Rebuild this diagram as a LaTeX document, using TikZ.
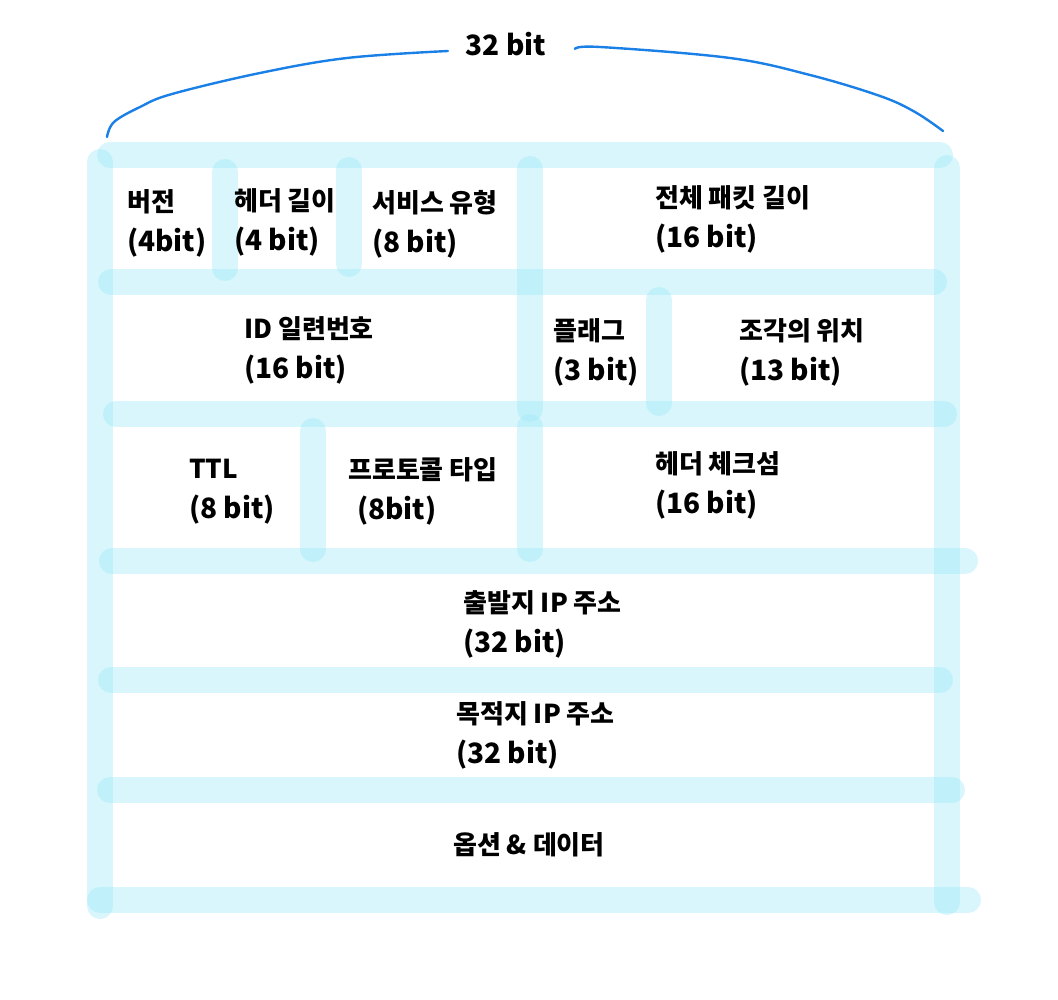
\documentclass[tikz,border=0pt]{standalone}
\usepackage{fontspec}
\setmainfont{Noto Sans CJK KR}
\definecolor{gridcol}{RGB}{157,232,247}
\definecolor{bracecol}{RGB}{26,128,230}
\newcommand{\bitsz}[1]{{\fontsize{28}{40}\selectfont #1}}
\tikzset{
  gridline/.style={draw=gridcol, opacity=0.4, line width=26pt, line cap=round},
  bracel/.style={draw=bracecol, line width=2.4pt, line cap=round},
  lbl/.style={anchor=west, inner sep=0pt, align=left, font=\fontsize{26}{40}\selectfont\bfseries},
}
\begin{document}
\begin{tikzpicture}[x=1pt, y=-1pt]
\useasboundingbox (0,0) rectangle (1058,1000);
% horizontal grid strokes
\draw[gridline] (110,155) -- (940,155);
\draw[gridline] (111,282) -- (934,282);
\draw[gridline] (116,414) -- (944,414);
\draw[gridline] (112,561) -- (965,561);
\draw[gridline] (111,680) -- (940,680);
\draw[gridline] (110,790) -- (952,790);
\draw[gridline] (100,900) -- (968,900);
% vertical grid strokes
\draw[gridline] (100,162) -- (100,906);
\draw[gridline] (947,168) -- (947,902);
\draw[gridline] (225,172) -- (225,268);
\draw[gridline] (349,170) -- (349,264);
\draw[gridline] (530,169) -- (530,409);
\draw[gridline] (659,300) -- (659,403);
\draw[gridline] (530,427) -- (530,549);
\draw[gridline] (313,431) -- (313,549);
% brace
\node[inner sep=0pt, font=\fontsize{28}{30}\selectfont\bfseries] (bits) at (506,44) {32 bit};
\coordinate (bl) at (107,137);
\coordinate (br) at (943,131);
\draw[bracel] plot[smooth, tension=0.6] coordinates {(bl) (114,122) (140,107) (172,94) (260,73) (347,58) (448,51)};
\draw[bracel] plot[smooth, tension=0.6] coordinates {(575,49) (600,47) (730,58) (810,75) (880,96) (915,112) (br)};
% labels
\node[lbl] (ver) at (127,223) {버전\\\bitsz{(4bit)}};
\node[lbl] (hlen) at (234,222) {헤더 길이\\\bitsz{(4 bit)}};
\node[lbl] (tos) at (372,224) {서비스 유형\\\bitsz{(8 bit)}};
\node[lbl] (tlen) at (655,219) {전체 패킷 길이\\\bitsz{(16 bit)}};
\node[lbl] (ident) at (244,350) {ID 일련번호\\\bitsz{(16 bit)}};
\node[lbl] (flag) at (553,352) {플래그\\\bitsz{(3 bit)}};
\node[lbl] (frag) at (739,352) {조각의 위치\\\bitsz{(13 bit)}};
\node[lbl] (ttl) at (189,492) {TTL\\\bitsz{(8 bit)}};
\node[lbl] (proto) at (348,491) {프로토콜 타입\\\hspace{9pt}\bitsz{(8bit)}};
\node[lbl] (chk) at (655,485) {헤더 체크섬\\\bitsz{(16 bit)}};
\node[lbl] (src) at (463,624) {출발지 IP 주소\\\bitsz{(32 bit)}};
\node[lbl] (dst) at (456,735) {목적지 IP 주소\\\bitsz{(32 bit)}};
\node[lbl] (opt) at (453,845) {옵션 \& 데이터};
\end{tikzpicture}
\end{document}
